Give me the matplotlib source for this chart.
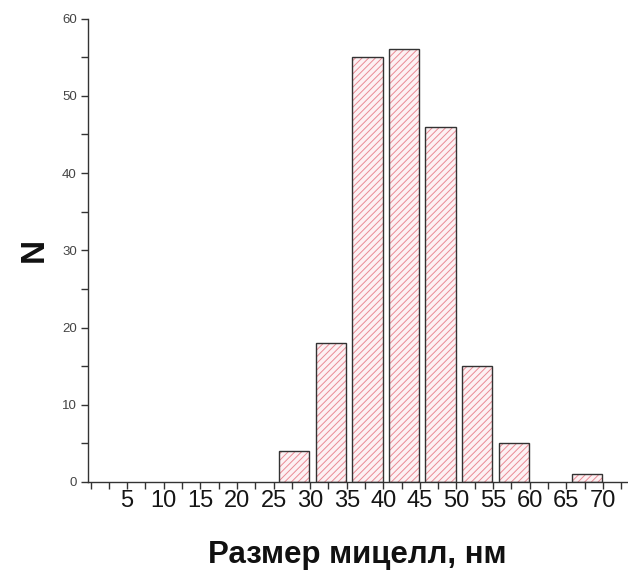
import matplotlib
matplotlib.use("Agg")
import matplotlib.pyplot as plt
import numpy as np
from matplotlib.ticker import MultipleLocator

# Data
bin_starts = [0, 5, 10, 15, 20, 25, 30, 35, 40, 45, 50, 55, 60, 65]
counts = [0, 0, 0, 0, 0, 4, 18, 55, 56, 46, 15, 5, 0, 1]
x_tick_values = [5, 10, 15, 20, 25, 30, 35, 40, 45, 50, 55, 60, 65, 70]
y_tick_values = [0, 10, 20, 30, 40, 50, 60]
xlabel = "Размер мицелл, нм"
ylabel = "N"

plt.rcParams['hatch.linewidth'] = 0.7

fig = plt.figure(figsize=(6.28, 5.77), dpi=100)
ax = fig.add_axes([88/628, 1-482/577, (627-88)/628, (482-18.5)/577])

xs = np.array(bin_starts, dtype=float)
hs = np.array(counts, dtype=float)
mask = hs > 0
left = xs[mask] + 0.75
width = 4.15
ax.bar(left, hs[mask], width=width, align='edge', facecolor='#fdf1f3',
       edgecolor='#e98a94', hatch='/////', linewidth=0, zorder=2)
ax.bar(left, hs[mask], width=width, align='edge', fill=False,
       edgecolor='#333333', linewidth=1.0, zorder=3)

ax.set_xlim(-0.35, 73.3)
ax.set_ylim(0, 60)
for s in ['top', 'right']:
    ax.spines[s].set_visible(False)
for s in ['left', 'bottom']:
    ax.spines[s].set_color('#333333')
    ax.spines[s].set_linewidth(1.0)

ax.set_xticks(x_tick_values)
ax.set_xticklabels([str(v) for v in x_tick_values],
                   fontfamily=['Liberation Sans Narrow', 'Liberation Sans'],
                   fontsize=17, color='#151515')
ax.xaxis.set_minor_locator(MultipleLocator(2.5))
ax.set_yticks(y_tick_values)
ax.set_yticklabels([str(v) for v in y_tick_values],
                   fontfamily=['Liberation Sans'], fontsize=9.5, color='#444444')
ax.yaxis.set_minor_locator(MultipleLocator(5))

ax.tick_params(axis='x', which='both', direction='out', length=5, width=1,
               color='#333333', pad=1)
ax.tick_params(axis='y', which='both', direction='out', length=5, width=1,
               color='#333333', pad=3)

fig.text(357/628, 1-555/577, xlabel, ha='center', va='center',
         fontfamily=['Liberation Sans'], fontweight='bold', fontsize=22.5,
         color='#111111')
fig.text(34/628, 1-250/577, ylabel, ha='center', va='center', rotation=90,
         fontfamily=['Liberation Sans'], fontweight='bold', fontsize=24,
         color='#111111')

fig.savefig("out.png", dpi=100)
